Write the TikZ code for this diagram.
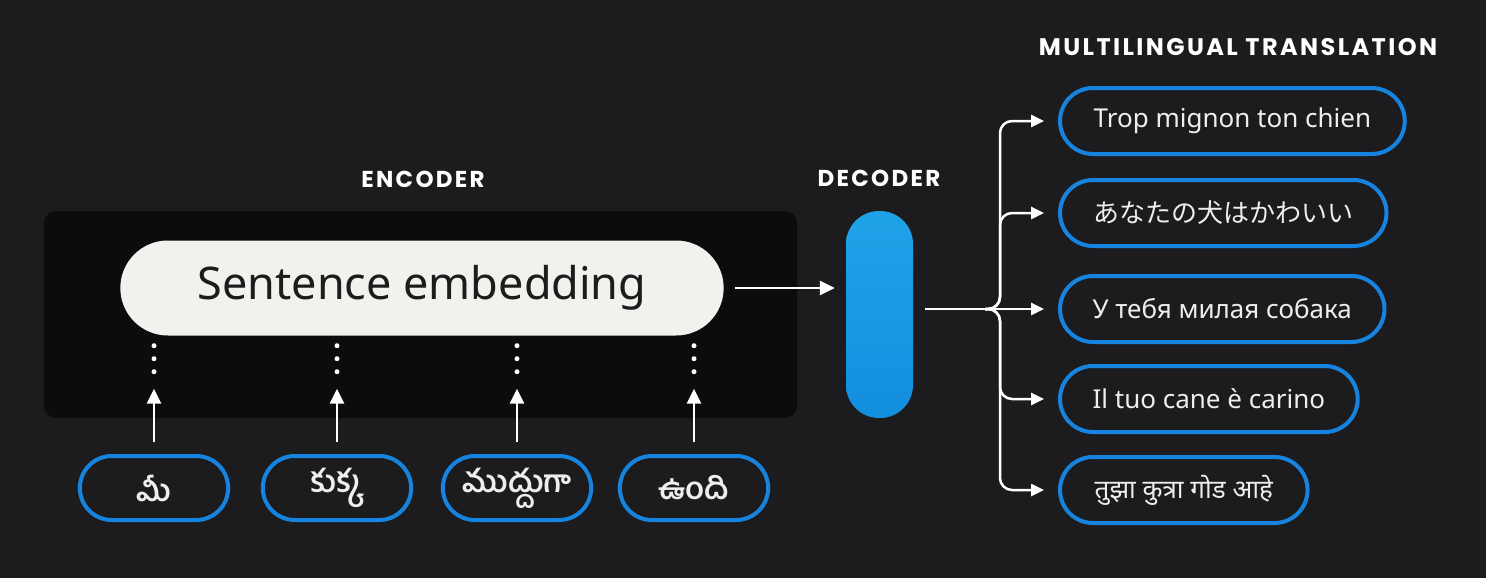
\documentclass[tikz,border=0pt]{standalone}
\usepackage{fontspec}
\setmainfont{Noto Sans}
\newfontfamily\headfont[LetterSpace=10]{Poppins}
\newfontfamily\jpfont{Noto Sans CJK JP}
\newfontfamily\telfont[Script=Telugu]{Hind Guntur}
\newfontfamily\devfont[Script=Devanagari]{Noto Sans}
\usetikzlibrary{shapes.misc,arrows.meta}

\definecolor{bgdark}{RGB}{28,28,30}
\definecolor{paneldark}{RGB}{12,12,12}
\definecolor{pillblue}{RGB}{22,132,222}
\definecolor{dectop}{RGB}{32,162,232}
\definecolor{decbot}{RGB}{18,142,222}
\definecolor{embfill}{RGB}{240,242,238}
\definecolor{embtext}{RGB}{28,28,28}
\definecolor{lighttext}{RGB}{238,238,238}

\begin{document}
\begin{tikzpicture}[x=1pt,y=-1pt,
		head_style/.style={text=white,font=\headfont\bfseries\fontsize{23}{27}\selectfont},
		in_style/.style={rounded rectangle,draw=pillblue,line width=4pt,fill=bgdark,
			minimum width=155pt,minimum height=64pt,text=lighttext,
			font=\telfont\bfseries\fontsize{31}{36}\selectfont},
		out_style/.style={rounded rectangle,draw=pillblue,line width=4pt,fill=bgdark,
			minimum height=66pt,inner xsep=31pt,anchor=west,text=lighttext,
			font=\fontsize{26}{31}\selectfont},
		arrow_style/.style={draw=white,line width=2.5pt,-{Triangle[length=15pt,width=14pt]}},
		branch_style/.style={draw=white,line width=2.5pt,rounded corners=12pt,
			-{Triangle[length=13pt,width=12pt]}},
		dot_style/.style={draw=white,line width=5pt,line cap=round,dash pattern=on 0pt off 13pt}]

		% background and encoder panel
		\fill[bgdark] (0,0) rectangle (1486,578);
		\fill[paneldark,rounded corners=12pt] (44,211) rectangle (797,418);

		\node[head_style] (enc_label) at (423,179) {ENCODER};
		\node[head_style] (dec_label) at (879,178) {DECODER};
		\node[head_style,font=\headfont\bfseries\fontsize{24}{28}\selectfont] (out_label) at (1238,47) {MULTILINGUAL TRANSLATION};

		\node[rounded rectangle,fill=embfill,minimum width=610pt,minimum height=95pt,
			text=embtext,font=\fontsize{45}{54}\selectfont] (emb) at (422,288) {Sentence embedding};

		\node[draw=none,rounded corners=33pt,minimum width=67pt,minimum height=207pt,
			top color=dectop,bottom color=decbot] (dec) at (879.5,314.5) {};

		% telugu input words
		\foreach \i/\x/\w in {1/154/మీ,2/337/కుక్క,3/517/ముద్దుగా,4/694/ఉంది}{
			\node[in_style] (in\i) at (\x,488) {\w};
			\draw[arrow_style,shorten <=12pt,shorten >=53pt] (in\i.north) -- (in\i.north |- emb.south);
			\draw[dot_style,shorten <=10pt,shorten >=80pt] (in\i.north |- emb.south) -- (in\i.north);
		}

		\draw[arrow_style,shorten <=11pt,shorten >=11pt] (emb.east) -- (dec.west |- emb.east);

		% translations
		\node[out_style] (out1) at (1058,121) {Trop mignon ton chien};
		\node[out_style,font=\jpfont\fontsize{26}{31}\selectfont] (out2) at (1058,213) {あなたの犬はかわいい};
		\node[out_style] (out3) at (1058,309) {У тебя милая собака};
		\node[out_style] (out4) at (1058,399) {Il tuo cane è carino};
		\node[out_style,font=\devfont\fontsize{26}{31}\selectfont] (out5) at (1058,490) {तुझा कुत्रा गोड आहे};

		\coordinate (split) at (985,309);
		\coordinate (bus) at (1000,309);

		\draw[draw=white,line width=2.5pt] ([xshift=12pt]dec.east |- split) -- (split);
		\draw[branch_style,shorten >=14pt] (split) -- (out3.west);
		\foreach \i in {1,2,4,5}
			\draw[branch_style,shorten >=14pt] (split) -| (bus |- out\i.west) -- (out\i.west);

\end{tikzpicture}
\end{document}
